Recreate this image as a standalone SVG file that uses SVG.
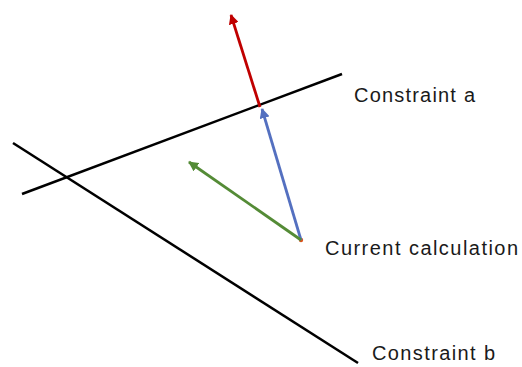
<svg xmlns="http://www.w3.org/2000/svg" width="522" height="367" viewBox="0 0 522 367">
<style>
.c{stroke:#000;stroke-width:2.5;fill:none;stroke-linecap:butt}
.v{stroke-width:2.8;fill:none}
text{font-family:"Liberation Sans",Arial,sans-serif;font-size:20px;fill:#1a1a1a}
</style>
<defs>
<marker id="mr" viewBox="0 0 10 10" refX="9" refY="5" markerWidth="3.6" markerHeight="3.6" orient="auto" markerUnits="strokeWidth"><path d="M0,0L10,5L0,10z" fill="#C00000"/></marker>
<marker id="mb" viewBox="0 0 10 10" refX="9" refY="5" markerWidth="3.6" markerHeight="3.6" orient="auto" markerUnits="strokeWidth"><path d="M0,0L10,5L0,10z" fill="#5470C0"/></marker>
<marker id="mg" viewBox="0 0 10 10" refX="9" refY="5" markerWidth="3.6" markerHeight="3.6" orient="auto" markerUnits="strokeWidth"><path d="M0,0L10,5L0,10z" fill="#548B36"/></marker>
</defs>
<g id="constraint-a">
<line class="c" x1="22" y1="194" x2="342" y2="74"/>
<text x="354" y="102" textLength="121">Constraint a</text>
</g>
<g id="constraint-b">
<line class="c" x1="13" y1="143" x2="358" y2="363"/>
<text x="372" y="360" textLength="123">Constraint b</text>
</g>
<g id="current-calculation">
<circle cx="301" cy="240" r="2.2" fill="#D9541E"/>
<text x="325" y="255" textLength="193">Current calculation</text>
</g>
<g id="connectors">
<line class="v" stroke="#C00000" x1="260" y1="107" x2="231" y2="15" marker-end="url(#mr)"/>
<line class="v" stroke="#5470C0" x1="301" y1="240" x2="262" y2="109" marker-end="url(#mb)"/>
<line class="v" stroke="#548B36" x1="301" y1="240" x2="189" y2="162" marker-end="url(#mg)"/>
</g>
</svg>
